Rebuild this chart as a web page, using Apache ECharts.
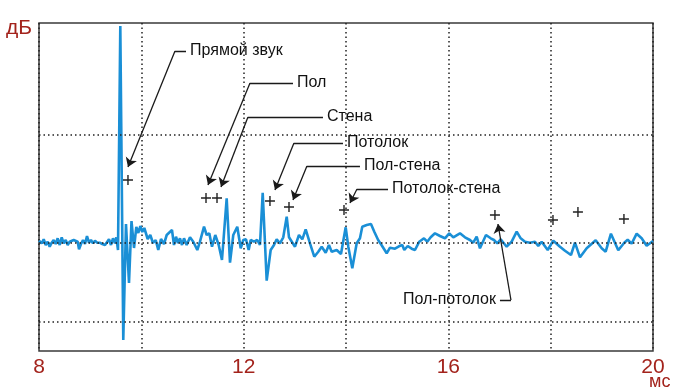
<!DOCTYPE html>
<html><head><meta charset="utf-8">
<script src="https://cdn.jsdelivr.net/npm/echarts@6/dist/echarts.min.js"></script>
<style>html,body{margin:0;padding:0;background:#fff}#c{width:690px;height:391px}</style>
</head><body><div id="c"></div>
<script>
// time (ms) and amplitude (arbitrary units, 0 = baseline)
const timeMs = [
8.000,8.053,8.092,8.131,8.170,8.209,8.248,8.287,8.326,8.365,8.405,8.444,8.483,8.522,8.561,8.600,8.639,8.678,8.717,8.756,
8.782,8.821,8.860,8.899,8.938,8.977,9.016,9.055,9.094,9.139,9.186,9.237,9.290,9.329,9.368,9.407,9.446,9.485,9.511,9.544,
9.589,9.647,9.700,9.759,9.808,9.857,9.902,9.941,9.980,10.019,10.058,10.124,10.175,10.228,10.281,10.331,10.384,10.443,
10.496,10.599,10.638,10.677,10.716,10.755,10.795,10.834,10.886,10.951,11.015,11.094,11.146,11.225,11.277,11.328,11.381,
11.445,11.512,11.576,11.668,11.733,11.797,11.875,11.942,11.993,12.045,12.098,12.137,12.202,12.266,12.319,12.372,12.450,
12.528,12.593,12.645,12.710,12.774,12.841,12.886,13.003,13.081,13.146,13.212,13.296,13.380,13.458,13.525,13.603,13.667,
13.720,13.818,13.902,13.994,14.045,14.123,14.209,14.273,14.318,14.404,14.488,14.553,14.631,14.697,14.795,14.860,14.957,
15.035,15.100,15.139,15.206,15.284,15.348,15.432,15.524,15.588,15.655,15.739,15.837,15.934,16.018,16.097,16.227,16.325,
16.423,16.487,16.554,16.618,16.736,16.828,16.892,16.957,17.023,17.140,17.238,17.336,17.414,17.498,17.596,17.693,17.758,
17.824,17.942,18.051,18.182,18.280,18.397,18.475,18.573,18.704,18.880,18.997,19.075,19.178,19.321,19.438,19.505,19.583,
19.681,19.778,19.876,20.000];
const amplitude = [
2.3,-0.3,3.7,-2,1.3,-3.7,0.3,3,-1,4.7,-2,5.7,-0.3,3,-2,1.3,0.3,3,4.7,1.3,
-6.3,-1,3,-1,7,0.3,3,-0.3,2.3,0.3,0.3,-1,-2,-0.3,3.7,-2,4.7,-0.3,5.7,-7,
217,-97,19,-40,22,-5,16,10,17,11,15,4,8,0,3,-7,4,-1,
8,13,-2,6.3,0,4.7,-2,4.7,-2,5.7,1.3,-7,1.3,16.3,8,9.7,-3.7,
8,-2,-17,44.7,-19.7,8,16.3,-5.3,3,3.7,-7,3,1.3,3,-2,50.3,-37.7,
-7,-2,3.7,-0.3,5.7,26.3,5.7,-3.7,8,3.7,13.7,-0.3,-13.7,-8.7,-3.7,-9.7,-2,
-8.7,-7,-11,15.7,-3.7,-25.3,-0.3,4.7,16.3,18,19,11.3,2.7,-2.3,-10.3,-4.7,-5.7,
-3.3,-2,-7,-3,-5.7,-7,1.3,4.7,1.3,5.7,9.7,7,4.7,9.7,5.7,9.7,5.7,
3,0.3,6.3,-5.3,8,4.7,3,-0.3,3.7,-3.7,1.3,11.3,4.7,1.3,0.3,1.3,-3,
1.3,-7,2.3,-3.7,-7.7,-12,0.3,-14.3,-5.3,2.7,-5.3,-8.7,9.3,-7.3,0.3,3.3,-0.7,
9.3,4.7,-2.7,2];

// reflection markers (+)
const markTime = [9.739,11.264,11.479,12.514,12.886,13.961,16.911,18.045,18.533,19.432];
const markAmp  = [63,45,45,42,36,33,28,23,31,24];

// annotations
const annoLabels = ['Прямой звук','Пол','Стена','Потолок','Пол-стена','Потолок-стена','Пол-потолок'];
const annoTip   = [[9.739,76],[11.303,58],[11.557,56],[12.612,53],[12.964,43],[14.078,40],[16.970,19]];
const annoElbow = [[10.658,192],[12.124,160],[12.084,126],[12.983,100],[13.237,77],[14.215,54],[17.224,-57]];
const annoEnd   = [[10.873,192],[12.964,160],[13.550,126],[13.941,100],[14.273,77],[14.821,54],[17.009,-57]];
const annoSide  = ['right','right','right','right','right','right','left'];

const xTickLabels = [8,12,16,20];
const hGridValues = [108,0,-79];

const red = '#a3231c';
const chart = echarts.init(document.getElementById('c'));
chart.setOption({
  animation:false,
  grid:{left:39,right:37,top:23,bottom:40,show:true,borderColor:'#3a3a3a',borderWidth:1.5,backgroundColor:'transparent'},
  xAxis:{type:'value',min:8,max:20,interval:2,
    axisLine:{show:false},axisTick:{show:false},
    axisLabel:{margin:6,fontFamily:'Liberation Sans, Arial',fontSize:21,color:red,
      formatter:v=>xTickLabels.indexOf(v)>=0?String(v):''},
    splitLine:{show:true,lineStyle:{color:'#222',width:1.5,type:[1.5,3]}}},
  yAxis:{type:'value',min:-108,max:220,axisLine:{show:false},axisTick:{show:false},axisLabel:{show:false},splitLine:{show:false}},
  graphic:[
    {type:'text',left:6,top:18,style:{text:'дБ',fill:red,font:'21px "Liberation Sans", Arial'}},
    {type:'text',left:649,top:373,style:{text:'мс',fill:red,font:'18px "Liberation Sans", Arial'}}
  ],
  series:[
    {type:'line',data:timeMs.map((t,i)=>[t,amplitude[i]]),showSymbol:false,
      lineStyle:{color:'#1a8fd6',width:2.6},z:3,
      markLine:{silent:true,symbol:'none',label:{show:false},
        lineStyle:{color:'#222',width:1.5,type:[1.5,3]},
        data:hGridValues.map(v=>({yAxis:v}))}},
    {type:'scatter',data:markTime.map((t,i)=>[t,markAmp[i]]),
      symbol:'path://M4.3,0h1.4v10h-1.4zM0,4.3h10v1.4h-10z',symbolSize:10,
      itemStyle:{color:'#222',opacity:1},z:4},
    {type:'lines',coordinateSystem:'cartesian2d',z:5,
      symbol:['none','arrow'],symbolSize:[0,9],
      lineStyle:{color:'#1a1a1a',width:1.3,opacity:1,curveness:0},
      data:annoTip.map((p,i)=>({coords:[annoElbow[i],p]}))},
    {type:'lines',coordinateSystem:'cartesian2d',z:5,symbol:'none',
      lineStyle:{color:'#1a1a1a',width:1.3,opacity:1,curveness:0},
      data:annoEnd.map((p,i)=>({coords:[annoElbow[i],p]}))},
    {type:'scatter',symbolSize:0,z:6,itemStyle:{opacity:1},
      data:annoEnd.map((p,i)=>({value:p,name:annoLabels[i],
        label:{show:true,position:annoSide[i],distance:4,formatter:'{b}',opacity:1,
          color:'#111',fontSize:16,fontFamily:'Liberation Sans, Arial'}}))}
  ]
});
</script></body></html>
